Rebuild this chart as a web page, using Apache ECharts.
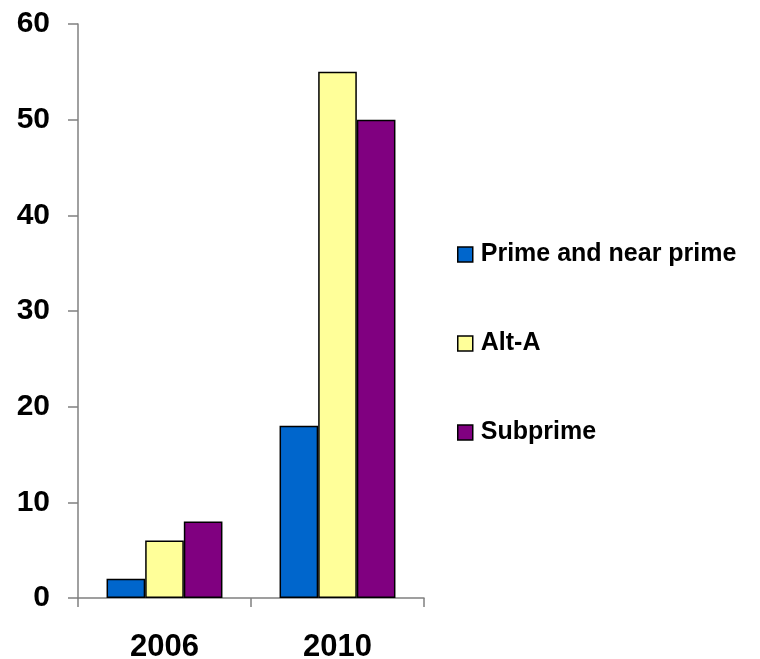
<!DOCTYPE html>
<html>
<head>
<meta charset="utf-8">
<script src="https://cdn.jsdelivr.net/npm/echarts@6/dist/echarts.min.js"></script>
<style>html,body{margin:0;padding:0;background:#fff;}#c{width:760px;height:659px;}</style>
</head>
<body>
<div id="c"></div>
<script>
const categories = ['2006', '2010'];
const seriesNames = ['Prime and near prime', 'Alt-A', 'Subprime'];
const primeValues = [2, 18];
const altAValues = [6, 55];
const subprimeValues = [8, 50];
const yTicks = [0, 10, 20, 30, 40, 50, 60];

const colors = ['#0066CC', '#FFFF99', '#800080'];
const font = 'Liberation Sans, Arial, sans-serif';
const chart = echarts.init(document.getElementById('c'), null, {renderer: 'canvas'});
const mk = (name, data, color) => ({
  name, type: 'bar', data,
  barGap: '0%', barCategoryGap: '33%',
  itemStyle: {color, borderColor: '#000', borderWidth: 1.5},
  emphasis: {disabled: true}
});
chart.setOption({
  animation: false,
  backgroundColor: '#fff',
  grid: {left: 78, right: 336, top: 24, bottom: 61, containLabel: false, outerBoundsMode: 'none'},
  legend: {
    orient: 'vertical', left: 452, top: 237,
    itemWidth: 15, itemHeight: 15, itemGap: 64,
    icon: 'rect',
    textStyle: {fontFamily: font, fontWeight: 'bold', fontSize: 25, color: '#000', padding: [0,0,0,3]},
    itemStyle: {borderColor: '#000', borderWidth: 1.5},
    data: seriesNames
  },
  xAxis: {
    type: 'category', data: categories,
    axisLine: {lineStyle: {color: '#808080', width: 1.5}},
    axisTick: {show: true, length: 9, lineStyle: {color: '#808080', width: 1.5}},
    axisLabel: {fontFamily: font, fontWeight: 'bold', fontSize: 31, color: '#000', margin: 34}
  },
  yAxis: {
    type: 'value', min: yTicks[0], max: yTicks[yTicks.length - 1], interval: 10,
    splitLine: {show: false},
    axisLine: {show: true, lineStyle: {color: '#808080', width: 1.5}},
    axisTick: {show: true, length: 10, lineStyle: {color: '#808080', width: 1.5}},
    axisLabel: {fontFamily: font, fontWeight: 'bold', fontSize: 30, color: '#000', margin: 28}
  },
  series: [
    mk(seriesNames[0], primeValues, colors[0]),
    mk(seriesNames[1], altAValues, colors[1]),
    mk(seriesNames[2], subprimeValues, colors[2])
  ]
});
</script>
</body>
</html>
